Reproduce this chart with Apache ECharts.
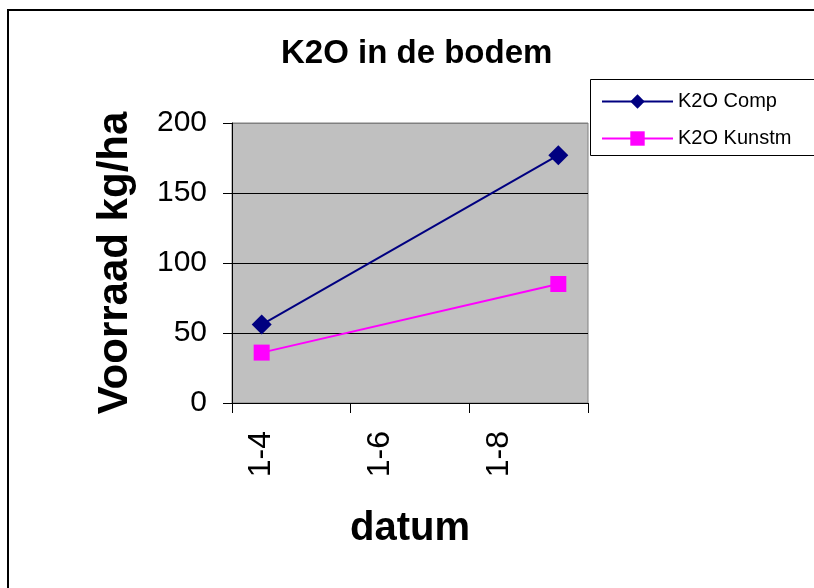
<!DOCTYPE html>
<html>
<head>
<meta charset="utf-8">
<script src="https://cdn.jsdelivr.net/npm/echarts@6/dist/echarts.min.js"></script>
<style>
html,body{margin:0;padding:0;background:#fff;}
#c{width:814px;height:588px;}
</style>
</head>
<body>
<div id="c"></div>
<script>
var months = ['1-4', '1-5', '1-6', '1-7', '1-8', '1-9'];
var sampleDates = ['1-4', '1-9'];
var compValues = [56, 177];
var kunstmValues = [36, 85];
var seriesNames = ['K2O Comp', 'K2O Kunstm'];
var yTicks = [0, 50, 100, 150, 200];

var FONT = 'Liberation Sans, Arial, sans-serif';
function pairs(vals) { return sampleDates.map(function (d, i) { return [d, vals[i]]; }); }

var chart = echarts.init(document.getElementById('c'));
chart.setOption({
  animation: false,
  backgroundColor: '#ffffff',
  title: {
    text: 'K2O in de bodem',
    left: 276, top: 32,
    textStyle: { fontFamily: FONT, fontSize: 33, fontWeight: 'bold', color: '#000' }
  },
  graphic: [
    { type: 'rect', z: -10, shape: { x: 8, y: 10, width: 900, height: 700 },
      style: { fill: '#fff', stroke: '#000', lineWidth: 2 } },
    { type: 'rect', z: 0, shape: { x: 590.5, y: 79.5, width: 300, height: 76 },
      style: { fill: '#fff', stroke: '#000', lineWidth: 1 } }
  ],
  legend: {
    orient: 'vertical', left: 596, top: 86, itemWidth: 71, itemHeight: 18, itemGap: 16,
    z: 5,
    lineStyle: { width: 2 },
    textStyle: { fontFamily: FONT, fontSize: 20, color: '#000', lineHeight: 21 },
    data: seriesNames
  },
  grid: {
    left: 232, top: 123, right: 226, bottom: 185,
    show: true, backgroundColor: '#C0C0C0', borderColor: '#808080', borderWidth: 1
  },
  xAxis: [
    {
      type: 'category', data: months, boundaryGap: true, position: 'bottom',
      name: 'datum', nameLocation: 'middle', nameGap: 106,
      nameTextStyle: { fontFamily: FONT, fontSize: 40, fontWeight: 'bold', color: '#000' },
      axisLine: { show: true, lineStyle: { color: '#000', width: 1 } },
      axisTick: { show: false },
      axisLabel: { interval: 1, rotate: 90, margin: 28, fontFamily: FONT, fontSize: 32, color: '#000' },
      splitLine: { show: false }
    },
    {
      type: 'value', min: 0, max: 6, interval: 2, position: 'bottom',
      axisLine: { show: false },
      axisTick: { show: true, length: 10, lineStyle: { color: '#000' } },
      axisLabel: { show: false },
      splitLine: { show: false }
    }
  ],
  yAxis: {
    type: 'value', min: 0, max: 200, interval: 50,
    name: 'Voorraad kg/ha', nameLocation: 'middle', nameGap: 96,
    nameTextStyle: { fontFamily: FONT, fontSize: 42, fontWeight: 'bold', color: '#000' },
    axisLine: { show: true, lineStyle: { color: '#000', width: 1 } },
    axisTick: { show: true, length: 9, lineStyle: { color: '#000' } },
    axisLabel: { margin: 25, fontFamily: FONT, fontSize: 30, color: '#000' },
    splitLine: { show: true, lineStyle: { color: ['#000', '#000', '#000', '#000', '#808080'], width: 1 } }
  },
  series: [
    {
      name: seriesNames[0], type: 'line', xAxisIndex: 0, data: pairs(compValues),
      symbol: 'diamond', symbolSize: 20,
      lineStyle: { color: '#000080', width: 2 },
      itemStyle: { color: '#000080' }
    },
    {
      name: seriesNames[1], type: 'line', xAxisIndex: 0, data: pairs(kunstmValues),
      symbol: 'rect', symbolSize: 16,
      lineStyle: { color: '#FF00FF', width: 2 },
      itemStyle: { color: '#FF00FF' }
    }
  ]
});
</script>
</body>
</html>
